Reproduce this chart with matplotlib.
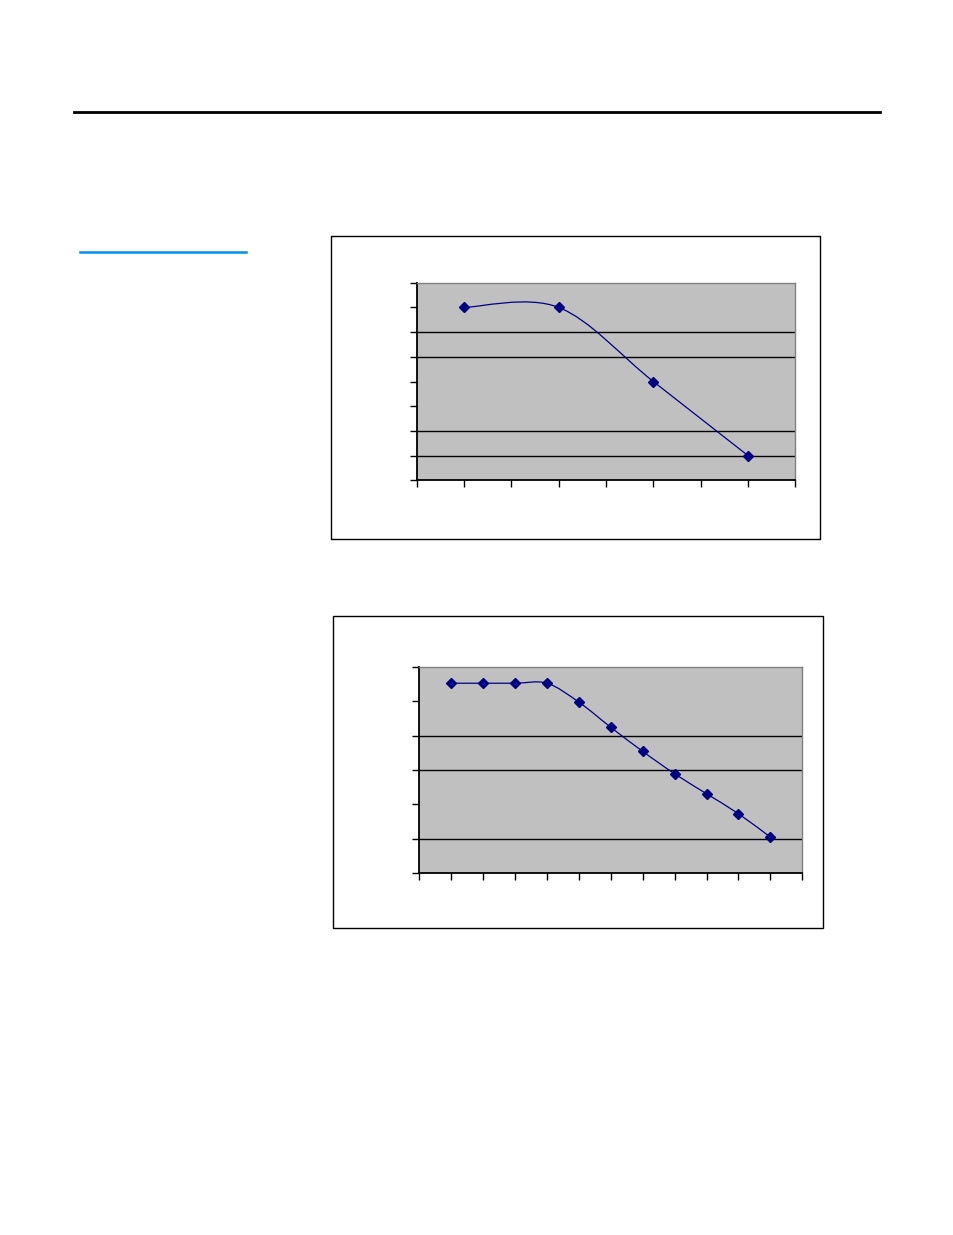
import matplotlib
matplotlib.use("Agg")
import matplotlib.pyplot as plt
from matplotlib.path import Path
from matplotlib.patches import PathPatch, Rectangle
from matplotlib.lines import Line2D

# ---- data ----
chart1_x = [1, 3, 5, 7]
chart1_y = [7, 7, 4, 1]
chart1_xlim = (0, 8)
chart1_ylim = (0, 8)
chart1_grid = [1, 2, 5, 6]

chart2_x = [1, 2, 3, 4, 5, 6, 7, 8, 9, 10, 11]
chart2_y = [5.52, 5.52, 5.52, 5.52, 4.97, 4.24, 3.54, 2.89, 2.31, 1.73, 1.05]
chart2_xlim = (0, 12)
chart2_ylim = (0, 6)
chart2_grid = [1, 3, 4]

W, H = 954, 1235
fig = plt.figure(figsize=(W / 100, H / 100), dpi=100)
fig.patch.set_facecolor("white")

NAVY = "#000080"


def fx(px):
    return px / W


def fy(py):
    return 1 - py / H


def smooth_path(xs, ys):
    # Excel-style smoothed line: cubic Bezier segments (Catmull-Rom, tension 1/6)
    pts = list(zip(xs, ys))
    verts = [pts[0]]
    codes = [Path.MOVETO]
    n = len(pts)
    for i in range(n - 1):
        p0 = pts[i - 1] if i > 0 else pts[i]
        p1 = pts[i]
        p2 = pts[i + 1]
        p3 = pts[i + 2] if i + 2 < n else pts[i + 1]
        c1 = (p1[0] + (p2[0] - p0[0]) / 6, p1[1] + (p2[1] - p0[1]) / 6)
        c2 = (p2[0] - (p3[0] - p1[0]) / 6, p2[1] - (p3[1] - p1[1]) / 6)
        verts += [c1, c2, p2]
        codes += [Path.CURVE4, Path.CURVE4, Path.CURVE4]
    return Path(verts, codes)


def outer_box(x0, y0, x1, y1):
    fig.patches.append(Rectangle((fx(x0), fy(y1)), fx(x1) - fx(x0), fy(y0) - fy(y1),
                                 transform=fig.transFigure, fill=False,
                                 edgecolor="black", linewidth=1.0))


def chart(box, x, y, xlim, ylim, grid):
    x0, y0, x1, y1 = box
    ax = fig.add_axes([fx(x0), fy(y1), fx(x1) - fx(x0), fy(y0) - fy(y1)])
    ax.set_facecolor("#C0C0C0")
    ax.set_xlim(*xlim)
    ax.set_ylim(*ylim)
    ax.set_xticks(range(xlim[0], xlim[1] + 1))
    ax.set_yticks(range(ylim[0], ylim[1] + 1))
    ax.set_xticklabels([])
    ax.set_yticklabels([])
    ax.tick_params(direction="out", length=5, width=1, color="black")
    for g in grid:
        ax.axhline(g, color="black", linewidth=1.0, zorder=1)
    for s in ("top", "right"):
        ax.spines[s].set_color("#808080")
        ax.spines[s].set_linewidth(1.0)
    for s in ("left", "bottom"):
        ax.spines[s].set_color("black")
        ax.spines[s].set_linewidth(1.3)
    ax.add_patch(PathPatch(smooth_path(x, y), fill=False, edgecolor=NAVY,
                           linewidth=0.9, zorder=3))
    ax.plot(x, y, linestyle="none", marker="D", markersize=5,
            color=NAVY, zorder=4, clip_on=False)
    return ax


# page decorations
fig.add_artist(Line2D([fx(74), fx(880)], [fy(111.7), fy(111.7)],
                      transform=fig.transFigure, color="black", linewidth=2.0))
fig.add_artist(Line2D([fx(80), fx(246)], [fy(251.7), fy(251.7)],
                      transform=fig.transFigure, color="#0090F0", linewidth=1.8))

# chart 1
outer_box(331, 236, 820, 539)
chart((416.7, 282.7, 795.3, 480.3), chart1_x, chart1_y, chart1_xlim, chart1_ylim, chart1_grid)

# chart 2
outer_box(333, 616, 823, 928)
chart((419.3, 666.7, 802.3, 873.3), chart2_x, chart2_y, chart2_xlim, chart2_ylim, chart2_grid)

fig.savefig("out.png", dpi=100, facecolor="white")
